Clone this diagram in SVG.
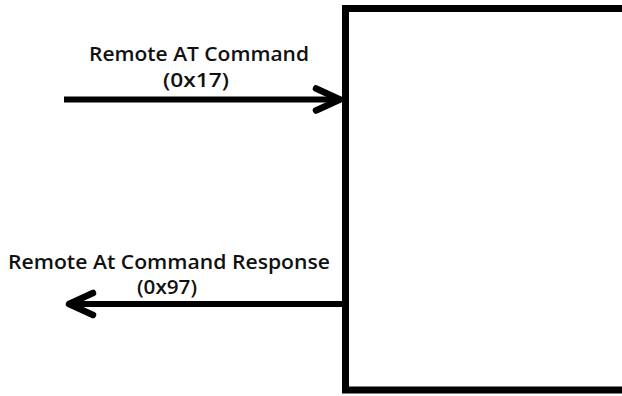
<svg xmlns="http://www.w3.org/2000/svg" width="622" height="396" viewBox="0 0 622 396">
  <defs>
    <style>
      .lbl { font-family: "Open Sans", "Liberation Sans", sans-serif; font-weight: 600; font-size: 19px; fill: #111; }
      .conn { stroke: #000; stroke-width: 6; fill: none; }
      .box { stroke: #000; stroke-width: 7; fill: #fff; }
    </style>
    <marker id="chev" markerUnits="userSpaceOnUse" viewBox="-32 -16 38 32" refX="0" refY="0" markerWidth="38" markerHeight="32" orient="auto" overflow="visible">
      <path d="M-24,-11 L0,0 L-24,11" fill="none" stroke="#000" stroke-width="6.5" stroke-linejoin="round" stroke-linecap="round"/>
    </marker>
  </defs>
  <rect width="622" height="396" fill="#fff"/>
  <g id="device">
    <rect class="box" x="345.5" y="8.5" width="320" height="381.5"/>
  </g>
  <g id="connectors">
    <line class="conn" x1="64" y1="99.5" x2="340" y2="99.5" marker-end="url(#chev)"/>
    <line class="conn" x1="345" y1="304" x2="69" y2="304" marker-end="url(#chev)"/>
  </g>
  <g id="label-command">
    <text class="lbl" x="199" y="60.5" text-anchor="middle" textLength="220" lengthAdjust="spacingAndGlyphs">Remote AT Command</text>
    <text class="lbl" x="196" y="87" text-anchor="middle" textLength="66" lengthAdjust="spacingAndGlyphs">(0x17)</text>
  </g>
  <g id="label-response">
    <text class="lbl" x="169" y="268.5" text-anchor="middle" textLength="322" lengthAdjust="spacingAndGlyphs">Remote At Command Response</text>
    <text class="lbl" x="167" y="293.5" text-anchor="middle" textLength="60" lengthAdjust="spacingAndGlyphs">(0x97)</text>
  </g>
</svg>
